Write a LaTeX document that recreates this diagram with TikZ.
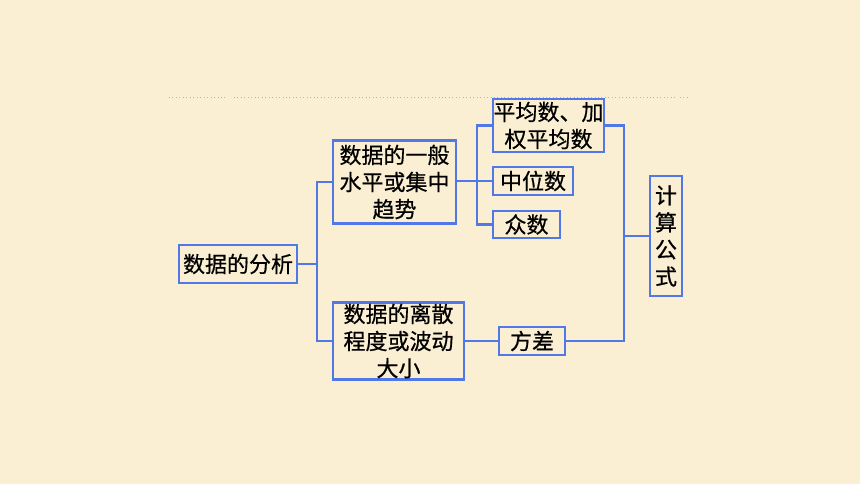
\documentclass[tikz,border=0pt]{standalone}
\usepackage{fontspec}
\newfontfamily\cjk[FakeBold=0.6]{Noto Sans CJK SC}
\usetikzlibrary{positioning}

\definecolor{paper}{RGB}{250,239,210}
\definecolor{boxblue}{RGB}{80,120,230}
\definecolor{rulegray}{RGB}{185,178,160}

\begin{document}
\begin{tikzpicture}[x=0.75pt, y=-0.75pt,
		every node/.style = {
			draw=boxblue, rectangle,
			line width=1.8pt,
			fill=paper,
			inner sep=0pt,
			outer sep=0pt,
			align=center,
			font=\cjk\fontsize{16.5}{20.3}\selectfont
			},
		link/.style = {draw=boxblue, line width=1.8pt}
		]
		\fill[paper] (0,0) rectangle (860,484);
		\useasboundingbox (0,0) rectangle (860,484);
		
		%\draw[rulegray] dotted line on top
		\draw[rulegray, dotted, line width=0.6pt] (169,97) -- (225,97);
		\draw[rulegray, dotted, line width=0.6pt] (234,97) -- (675,97);
		\draw[rulegray, dotted, line width=0.6pt] (680,97) -- (689,97);
		
		\node [minimum width=88.5pt, minimum height=28.5pt] (fx) at (238,264) {数据的分析};
		\node [minimum width=92.25pt, minimum height=62.25pt] (jz) at (394.5,182) {数据的一般\\水平或集中\\趋势};
		\node [minimum width=98.25pt, minimum height=57.75pt] (ls) at (398.5,341) {数据的离散\\程度或波动\\大小};
		
		\node [minimum width=83.25pt, minimum height=39.75pt] (pj) at (548.5,125.5) {平均数、加\\权平均数};
		\node [minimum width=60pt, minimum height=21pt,
			below=11.25pt of pj.south west, anchor=north west] (zw) {中位数};
		\node [minimum width=50.25pt, minimum height=20.25pt,
			below=12pt of zw.south west, anchor=north west] (zs) {众数};
		
		\node [minimum width=49.5pt, minimum height=21pt] (fc) at (532,341) {方差};
		\node [minimum width=24pt, minimum height=90pt] (js) at (666,236) {计\\算\\公\\式};
		
		\coordinate (t1) at (317,264);
		\coordinate (t2) at (477,181);
		\coordinate (t3) at (624,236);
		
		\draw[link] (fx.east) -- (t1);
		\draw[link] (jz.west) -| (t1) |- (ls.west);
		
		\draw[link] (zw.west -| jz.east) -- (zw.west);
		\draw[link] (pj.west) -| (t2) |- (zs.west);
		
		\draw[link] (ls.east) -- (fc.west);
		\draw[link] (pj.east) -| (t3) |- (fc.east);
		\draw[link] (t3) -- (js.west);
		
	\end{tikzpicture}
\end{document}
